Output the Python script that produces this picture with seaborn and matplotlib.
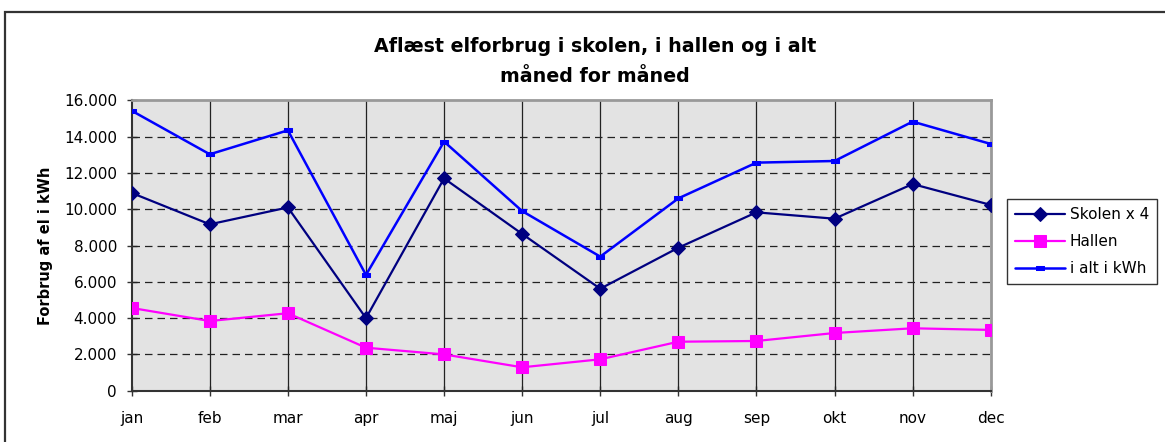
import numpy as np
import pandas as pd
import matplotlib
matplotlib.use("Agg")
import matplotlib.pyplot as plt
from matplotlib.ticker import FuncFormatter, MultipleLocator
from matplotlib.patches import Rectangle
import seaborn as sns

months = ["jan", "feb", "mar", "apr", "maj", "jun", "jul", "aug", "sep", "okt", "nov", "dec"]
skolen_x4 = [10900, 9170, 10100, 4000, 11700, 8640, 5620, 7880, 9830, 9480, 11390, 10240]
hallen = [4560, 3840, 4270, 2370, 2000, 1290, 1730, 2700, 2740, 3180, 3440, 3350]
i_alt = [15430, 13030, 14350, 6380, 13730, 9900, 7390, 10600, 12570, 12660, 14830, 13600]
series_names = ["Skolen x 4", "Hallen", "i alt i kWh"]
title = "Aflæst elforbrug i skolen, i hallen og i alt\nmåned for måned"
ylabel = "Forbrug af el i kWh"

sns.set_theme(style="white")
plt.rcParams["font.family"] = ["DejaVu Sans"]
plt.rcParams["text.color"] = "black"
plt.rcParams["axes.labelcolor"] = "black"

fig = plt.figure(figsize=(11.65, 4.42), dpi=100)
ax = fig.add_axes([131.7 / 1165, 1 - 390.7 / 442, (990.7 - 131.7) / 1165, (390.7 - 100.4) / 442])
ax.set_facecolor("#E3E3E3")

x = np.arange(len(months))
df = pd.DataFrame({"x": x, "Skolen x 4": skolen_x4, "Hallen": hallen, "i alt i kWh": i_alt})

rect_marker = [(-1, -0.45), (1, -0.45), (1, 0.45), (-1, 0.45), (-1, -0.45)]
styles = {
    "Skolen x 4": dict(color="#000080", marker="D", markersize=7.3, linewidth=1.6,
                       markeredgecolor="#000080"),
    "Hallen": dict(color="#FF00FF", marker="s", markersize=8.7, linewidth=1.6,
                   markeredgecolor="#FF00FF"),
    "i alt i kWh": dict(color="#0000FF", marker=rect_marker, markersize=6, linewidth=1.8,
                        markeredgecolor="#0000FF"),
}
for name in series_names:
    sns.lineplot(data=df, x="x", y=name, ax=ax, label=name, sort=False, zorder=3, **styles[name])

ax.set_xlim(0, 11)
ax.set_ylim(0, 16000)
ax.set_xticks(x)
ax.set_xticklabels(months)
ax.yaxis.set_major_locator(MultipleLocator(2000))
ax.yaxis.set_major_formatter(FuncFormatter(lambda v, p: f"{int(v):,}".replace(",", ".")))

# grid
ax.grid(False)
for xi in x[1:-1]:
    ax.axvline(xi, color="#222222", linewidth=0.9, zorder=1)
for yv in range(2000, 16000, 2000):
    ax.axhline(yv, color="#222222", linewidth=0.9, linestyle=(0, (6, 4)), zorder=1)

for s in ["top", "right"]:
    ax.spines[s].set_color("#999999")
    ax.spines[s].set_linewidth(2)
for s in ["left", "bottom"]:
    ax.spines[s].set_color("#333333")
    ax.spines[s].set_linewidth(1.5)
    ax.spines[s].set_visible(True)

ax.tick_params(axis="both", which="major", direction="inout", length=7, width=1,
               color="#333333", labelsize=11, labelcolor="black")
ax.tick_params(axis="x", pad=11)
ax.tick_params(axis="y", pad=7)
ax.tick_params(bottom=True, left=True)

ax.set_xlabel("")
ax.set_ylabel(ylabel, fontsize=10.5, fontweight="bold", color="black")
ax.yaxis.set_label_coords(-0.0916, 0.5)

fig.text(595 / 1165, 1 - 61.5 / 442, title, ha="center", va="center", fontsize=13.7,
         fontweight="bold", linespacing=1.72, color="black")

ax.get_legend().remove()
handles, labels = ax.get_legend_handles_labels()
leg = fig.legend(handles, labels, loc="center left", bbox_to_anchor=(1007 / 1165, 1 - 241.7 / 442),
                 bbox_transform=fig.transFigure, frameon=True, fancybox=False, fontsize=11,
                 handlelength=3.3, labelspacing=0.8, borderpad=0.5, handletextpad=0.3,
                 borderaxespad=0)
leg.get_frame().set_edgecolor("black")
leg.get_frame().set_linewidth(1)
leg.get_frame().set_facecolor("white")
for t in leg.get_texts():
    t.set_color("black")

fig.patches.append(Rectangle((5 / 1165, -0.1), 1.2, 1 - 12 / 442 + 0.1, transform=fig.transFigure,
                             fill=False, edgecolor="#333333", linewidth=1.6, zorder=0))

fig.savefig("out.png", dpi=100, facecolor="white")
